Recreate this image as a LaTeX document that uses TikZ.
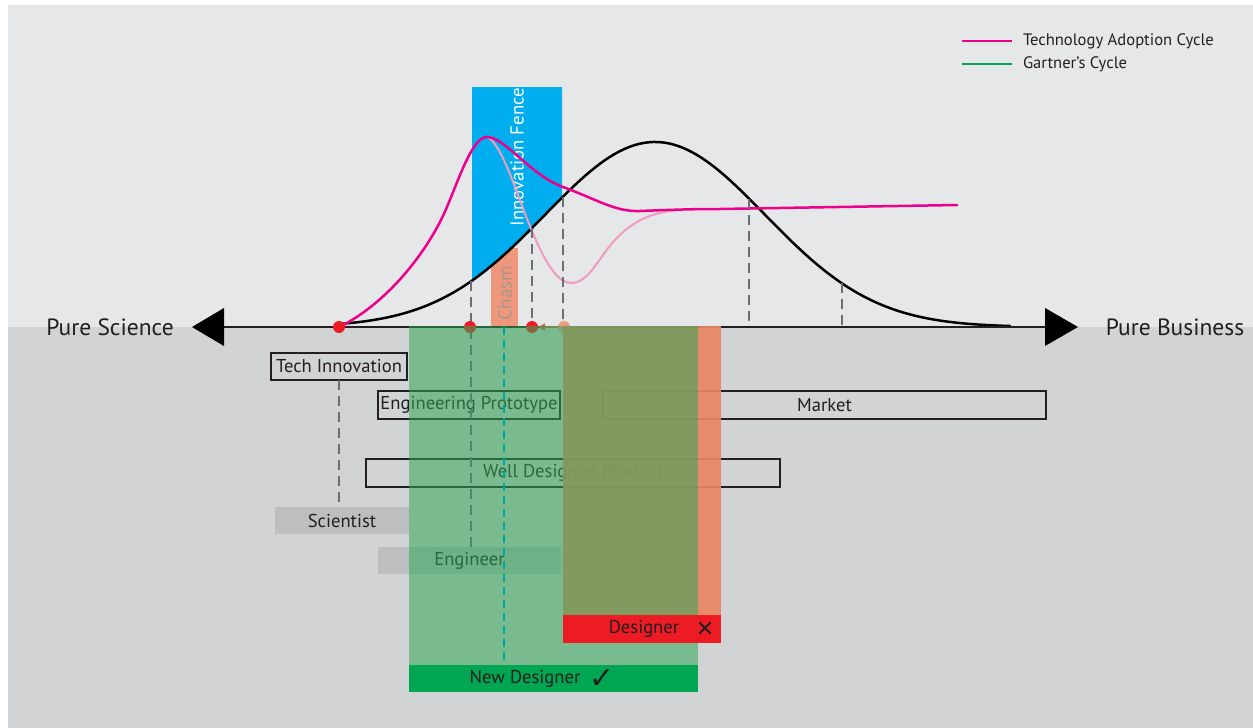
\documentclass[tikz,border=0pt]{standalone}
\usepackage{fontspec}
\setmainfont{PT Sans}
\newfontfamily\symfont{DejaVu Sans}
\usetikzlibrary{arrows.meta}

\definecolor{bgtop}{HTML}{E6E7E8}
\definecolor{bgbot}{HTML}{D1D3D4}
\definecolor{fenceblue}{HTML}{00AEEF}
\definecolor{chasmfill}{HTML}{EE977B}
\definecolor{chasmtext}{RGB}{172,150,144}
\definecolor{adopt}{HTML}{EC008C}
\definecolor{adoptlight}{HTML}{F09BC0}
\definecolor{dotred}{HTML}{ED1C24}
\definecolor{dotsalmon}{HTML}{EE9C80}
\definecolor{gartner}{HTML}{00A651}
\definecolor{veil}{RGB}{47,167,86}
\definecolor{salmon}{RGB}{232,134,100}
\definecolor{rolegray}{HTML}{BCBEC0}
\definecolor{dashgray}{HTML}{6D6E71}
\definecolor{teal}{HTML}{00A99D}
\definecolor{ink}{HTML}{231F20}
\definecolor{arrowbrown}{RGB}{200,100,60}

\tikzset{
  x=1pt, y=-1pt,
  every node/.style={inner sep=0pt, outer sep=0pt},
  txt/.style={font=\fontsize{18.6}{21}\selectfont, text=ink},
  framebox/.style={draw=ink, line width=2pt, txt},
  rolebox/.style={fill=rolegray, txt},
  guide/.style={draw=dashgray, line width=2pt, dash pattern=on 10pt off 6pt},
  tealguide/.style={draw=teal, line width=1.8pt, dash pattern=on 8pt off 5pt},
  curve/.style={line width=2.5pt, line cap=round},
  dot/.style={circle, minimum size=12pt},
  legendtxt/.style={font=\fontsize{16.6}{19}\selectfont, text=ink, anchor=west},
  poletxt/.style={font=\fontsize{23.5}{26}\selectfont, text=ink},
  declare function={bell(\t)=327-185*exp(-((\t-655)/110)^2/2);}
}

\begin{document}
\begin{tikzpicture}
  % canvas and the two halves of the field
  \useasboundingbox (0,0) rectangle (1253,728);
  \fill[white] (0,0) rectangle (1253,728);
  \fill[bgtop] (8,5) rectangle (1253,327);
  \fill[bgbot] (8,327) rectangle (1253,728);

  % legend
  \coordinate (lgA1) at (962,41); \coordinate (lgA2) at (1012,41);
  \coordinate (lgB1) at (962,64); \coordinate (lgB2) at (1012,64);
  \draw[adopt, line width=2.5pt] (lgA1) -- (lgA2);
  \draw[gartner, line width=2.5pt] (lgB1) -- (lgB2);
  \node[legendtxt] (lgAt) at (1023,41) {Technology Adoption Cycle};
  \node[legendtxt] (lgBt) at (1023,64) {Gartner’s Cycle};

  % chasm band
  \fill[chasmfill] (491,248) rectangle (518,327);
  \node[rotate=90, font=\fontsize{19}{21}\selectfont, text=chasmtext] (chasm) at (505,293) {Chasm};

  % innovation fence, bounded below by the adoption bell
  \fill[fenceblue] (472,87) -- (562,87)
    -- plot[domain=562:472, samples=40] (\x,{bell(\x)}) -- cycle;
  \node[rotate=90, font=\fontsize{18.8}{21}\selectfont, text=white] (fence) at (517,157) {Innovation Fence};

  % adoption bell
  \draw[black, curve] plot[domain=340:1010, samples=140] (\x,{bell(\x)});

  % technology adoption cycle: faded dip, then main curve
  \draw[adoptlight, line width=2pt, line cap=round]
    (489,138) .. controls (505,150) and (518,200) .. (535,238)
    .. controls (548,268) and (560,284) .. (572,283)
    .. controls (590,282) and (600,255) .. (615,240)
    .. controls (632,222) and (650,212) .. (680,210);
  \draw[adopt, curve]
    (339,327) .. controls (375,310) and (415,270) .. (440,222)
    .. controls (455,193) and (470,137) .. (487,137)
    .. controls (505,137) and (530,175) .. (563,187)
    .. controls (596,199) and (615,212) .. (640,211)
    .. controls (665,210) and (690,209) .. (720,209)
    -- (957,205);

  % markers dropped from the bell to the axis
  \coordinate (b1) at (471,{bell(471)});
  \coordinate (b2) at (532,{bell(532)});
  \coordinate (b3) at (563,{bell(563)});
  \coordinate (b4) at (749,{bell(749)});
  \coordinate (b5) at (842,{bell(842)});
  \draw[guide] (b2) -- (532,327);
  \draw[guide] (b3) -- (563,327);
  \draw[guide] (b4) -- (749,327);
  \draw[guide] (b5) -- (842,327);

  % axis with its two arrowheads
  \coordinate (axL) at (222,327); \coordinate (axR) at (1047,327);
  \draw[ink, line width=2.6pt] (axL) -- (axR);
  \fill[black] (224,308) -- (192,327) -- (224,346) -- cycle;
  \fill[black] (1045,308) -- (1078,327) -- (1045,346) -- cycle;
  \node[poletxt] (sci) at (110,327) {Pure Science};
  \node[poletxt] (bus) at (1175,327) {Pure Business};

  % stage boxes
  \node[framebox, minimum width=136pt, minimum height=27pt, fill=bgbot] (tech) at (339,366.5) {Tech Innovation};
  \node[framebox, minimum width=182pt, minimum height=28pt] (proto) at (469,405) {Engineering Prototype};
  \node[framebox, minimum width=443pt, minimum height=28pt] (market) at (824.5,405) {Market};
  \node[framebox, minimum width=414pt, minimum height=28pt] (product) at (573,473) {Well Designed Product};
  \node[rolebox, minimum width=134pt, minimum height=27pt] (scientist) at (342,520.5) {Scientist};
  \node[rolebox, minimum width=183pt, minimum height=27pt] (engineer) at (469.5,560.5) {Engineer};

  \draw[guide] (b1) -- (b1 |- engineer.north);
  \draw[guide] (tech.south) -- (tech.south |- scientist.north);

  % points on the axis
  \node[dot, fill=dotred] (p0) at (339,327) {};
  \node[dot, fill=dotred] (p1) at (470,327) {};
  \node[dot, fill=dotred] (p2) at (532,327) {};
  \node[dot, fill=dotsalmon] (p3) at (564,327) {};
  \draw[arrowbrown, line width=1.2pt, -{Triangle[length=7pt,width=7pt]}] (p3.west) -- (p2.east);

  % designer's span, veiled by the new designer's span
  \fill[salmon, opacity=0.92] (563,326) rectangle (721,615);
  \fill[veil, opacity=0.54] (409,326) rectangle (698,665);

  \node[fill=dotred, minimum width=158pt, minimum height=28pt] (designer) at (642,629) {};
  \node[txt] (designerlbl) at (644,629) {Designer};
  \node[font=\symfont\fontsize{22}{24}\selectfont, text=ink] (cross) at (705,629.5) {✕};

  \node[fill=gartner, minimum width=289pt, minimum height=27pt] (newdesigner) at (553.5,678.5) {};
  \node[txt] (newdesignerlbl) at (525,679) {New Designer};
  \node[font=\symfont\fontsize{30}{32}\selectfont, text=ink] (tick) at (602,679) {✓};

  \coordinate (tealtop) at (504,327);
  \draw[tealguide] (tealtop) -- (tealtop |- newdesigner.north);
\end{tikzpicture}
\end{document}
